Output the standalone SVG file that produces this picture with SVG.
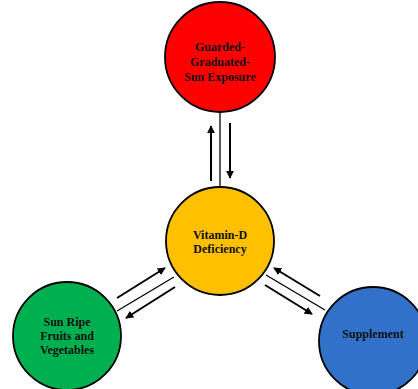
<svg xmlns="http://www.w3.org/2000/svg" width="418" height="389" viewBox="0 0 418 389">
<defs>
<style>
.node{stroke:#000;stroke-width:1.8}
.lbl{font-family:"Liberation Serif","Times New Roman",serif;font-weight:bold;font-size:12px;fill:#111;text-anchor:middle}
.ln{stroke:#000;stroke-width:1.3;fill:none}
.ar{stroke:#000;stroke-width:2;fill:none;marker-end:url(#ah)}
</style>
<marker id="ah" viewBox="0 0 10 10" refX="9" refY="5" markerWidth="4" markerHeight="4" orient="auto" markerUnits="strokeWidth">
<path d="M0,0 L10,5 L0,10 Z" fill="#000"/>
</marker>
</defs>
<rect width="418" height="389" fill="#fff"/>
<g id="connectors">
<line class="ln" x1="220" y1="112" x2="220" y2="187"/>
<line class="ar" x1="211" y1="181" x2="211" y2="126"/>
<line class="ar" x1="230" y1="123" x2="230" y2="178"/>
<line class="ln" x1="117" y1="311" x2="174" y2="277"/>
<line class="ar" x1="117" y1="298" x2="165" y2="268"/>
<line class="ar" x1="175" y1="287" x2="126" y2="318"/>
<line class="ln" x1="266" y1="275" x2="325" y2="310"/>
<line class="ar" x1="320" y1="296" x2="274" y2="268"/>
<line class="ar" x1="265" y1="285" x2="312" y2="314"/>
</g>
<g id="node-sun">
<circle class="node" cx="220" cy="57" r="55" fill="#FF0000"/>
<text class="lbl" x="220" y="51">Guarded-</text>
<text class="lbl" x="220" y="66">Graduated-</text>
<text class="lbl" x="220" y="81">Sun Exposure</text>
</g>
<g id="node-vitd">
<circle class="node" cx="220" cy="241" r="54" fill="#FFC000"/>
<text class="lbl" x="220" y="239">Vitamin-D</text>
<text class="lbl" x="220" y="253">Deficiency</text>
</g>
<g id="node-fruits">
<circle class="node" cx="67" cy="336" r="54" fill="#00B050"/>
<text class="lbl" x="67" y="326">Sun Ripe</text>
<text class="lbl" x="67" y="340">Fruits and</text>
<text class="lbl" x="67" y="354">Vegetables</text>
</g>
<g id="node-supp">
<circle class="node" cx="373" cy="341" r="54" fill="#3171C9"/>
<text class="lbl" x="373" y="338">Supplement</text>
</g>
</svg>
